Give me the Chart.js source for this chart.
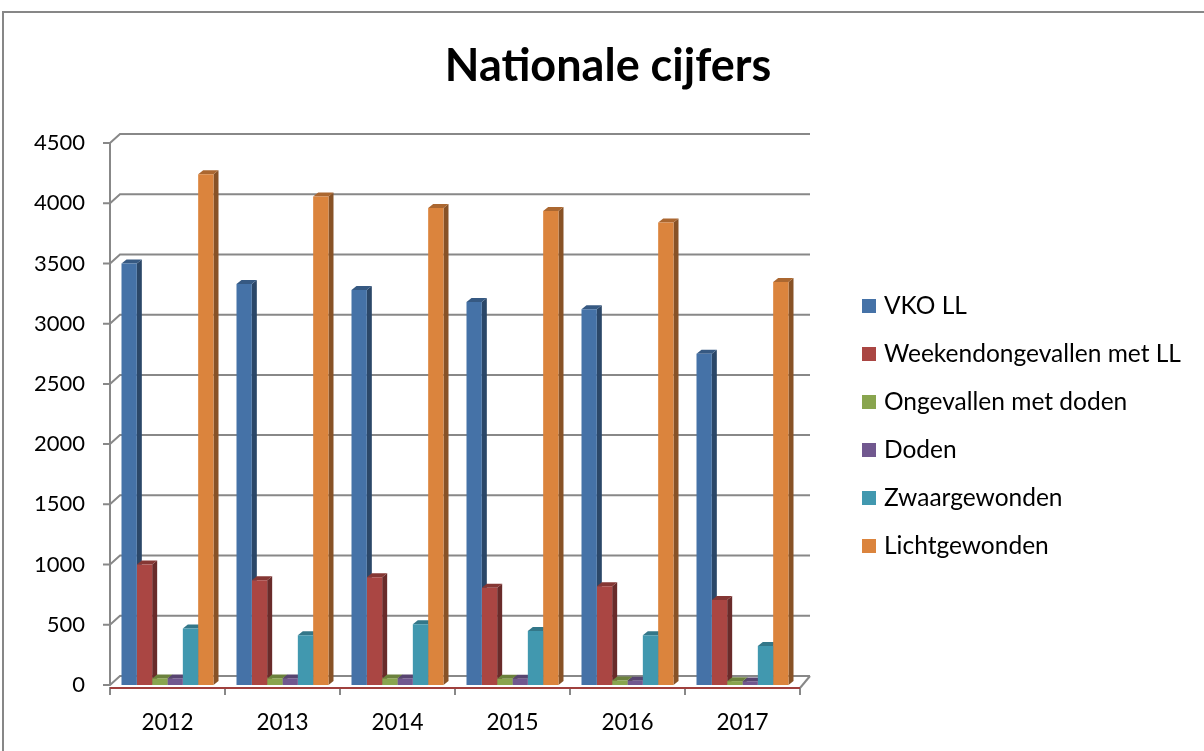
<!DOCTYPE html>
<html>
<head>
<meta charset="utf-8">
<script src="https://cdn.jsdelivr.net/npm/chart.js@4"></script>
<style>
  html, body { margin: 0; padding: 0; background: #fff; }
  #wrap { width: 1204px; height: 751px; }
</style>
</head>
<body>
<div id="wrap"><canvas id="chart" width="1204" height="751"></canvas></div>
<script>
// data
const years = ["2012", "2013", "2014", "2015", "2016", "2017"];
const vkoLL = [3500, 3330, 3280, 3180, 3120, 2750];
const weekendLL = [1000, 870, 895, 808, 820, 705];
const ongevallenDoden = [55, 55, 55, 52, 38, 32];
const doden = [55, 55, 55, 52, 35, 30];
const zwaargewonden = [470, 413, 504, 449, 413, 324];
const lichtgewonden = [4240, 4055, 3960, 3935, 3840, 3345];
const yTicks = [0, 500, 1000, 1500, 2000, 2500, 3000, 3500, 4000, 4500];

const seriesNames = ["VKO LL", "Weekendongevallen met LL", "Ongevallen met doden", "Doden", "Zwaargewonden", "Lichtgewonden"];
const colors = ["#4572A7", "#AA4643", "#89A54E", "#71588F", "#4198AF", "#DB843D"];

const FONT = "Lato, 'Open Sans', sans-serif";

function shade(hex, f) {
  const n = parseInt(hex.slice(1), 16);
  const r = Math.round(((n >> 16) & 255) * f);
  const g = Math.round(((n >> 8) & 255) * f);
  const b = Math.round((n & 255) * f);
  return "rgb(" + r + "," + g + "," + b + ")";
}

// back wall, floor and bar sides/tops (fake 3D like Excel)
const depth3d = {
  id: "depth3d",
  beforeDraw(chart) {
    const ctx = chart.ctx;
    ctx.save();
    ctx.strokeStyle = "#878787";
    ctx.lineWidth = 2;
    ctx.beginPath();
    ctx.moveTo(3, 751);
    ctx.lineTo(3, 12);
    ctx.lineTo(1204, 12);
    ctx.stroke();
    ctx.restore();
  },
  beforeDatasetsDraw(chart) {
    const ctx = chart.ctx;
    const area = chart.chartArea;
    const y = chart.scales.y;
    const wx = 10, wy = 9;
    ctx.save();
    ctx.strokeStyle = "#888";
    ctx.lineWidth = 2;
    yTicks.forEach(v => {
      const py = y.getPixelForValue(v);
      ctx.beginPath();
      ctx.moveTo(area.left - 7, py);
      ctx.lineTo(area.left, py);
      ctx.lineTo(area.left + wx, py - wy);
      ctx.lineTo(area.right + wx, py - wy);
      ctx.stroke();
    });
    // front axis line
    ctx.beginPath();
    ctx.moveTo(area.left, area.top);
    ctx.lineTo(area.left, area.bottom);
    ctx.stroke();
    // floor right edge
    ctx.beginPath();
    ctx.moveTo(area.right, area.bottom + 3);
    ctx.lineTo(area.right + wx, area.bottom - wy);
    ctx.stroke();
    // category ticks
    for (let i = 0; i <= years.length; i++) {
      const px = area.left + (area.right - area.left) * i / years.length;
      ctx.beginPath();
      ctx.moveTo(px, area.bottom + 2);
      ctx.lineTo(px, area.bottom + 10);
      ctx.stroke();
    }
    // front floor edge
    ctx.strokeStyle = "#A0403D";
    ctx.lineWidth = 2;
    ctx.beginPath();
    ctx.moveTo(area.left, area.bottom + 3);
    ctx.lineTo(area.right, area.bottom + 3);
    ctx.stroke();

    const dx = 5, dy = 4;
    chart.data.datasets.forEach((ds, di) => {
      const meta = chart.getDatasetMeta(di);
      meta.data.forEach(bar => {
        const l = bar.x - bar.width / 2;
        const r = bar.x + bar.width / 2;
        const t = bar.y, b = bar.base;
        ctx.fillStyle = shade(colors[di], 0.62);
        ctx.beginPath();
        ctx.moveTo(r, t);
        ctx.lineTo(r + dx, t - dy);
        ctx.lineTo(r + dx, b - dy);
        ctx.lineTo(r, b);
        ctx.closePath();
        ctx.fill();
        ctx.fillStyle = shade(colors[di], 0.78);
        ctx.beginPath();
        ctx.moveTo(l, t);
        ctx.lineTo(l + dx, t - dy);
        ctx.lineTo(r + dx, t - dy);
        ctx.lineTo(r, t);
        ctx.closePath();
        ctx.fill();
      });
    });
    ctx.restore();
  },
  afterDraw(chart) {
    const ctx = chart.ctx;
    ctx.save();
    // title
    ctx.fillStyle = "#000";
    ctx.font = "bold 45px " + FONT;
    ctx.textAlign = "center";
    ctx.textBaseline = "middle";
    ctx.fillText("Nationale cijfers", 608, 66);
    // legend
    ctx.font = "24.5px " + FONT;
    ctx.textAlign = "left";
    chart.data.datasets.forEach((ds, i) => {
      const cy = 306 + i * 48;
      ctx.fillStyle = ds.backgroundColor;
      ctx.fillRect(862, cy - 7, 14, 14);
      ctx.fillStyle = "#000";
      ctx.fillText(ds.label, 884, cy);
    });
    ctx.restore();
  }
};

const datasets = [vkoLL, weekendLL, ongevallenDoden, doden, zwaargewonden, lichtgewonden].map((vals, i) => ({
  label: seriesNames[i],
  data: vals,
  backgroundColor: colors[i],
  categoryPercentage: 0.8,
  barPercentage: 1.0
}));

new Chart(document.getElementById("chart"), {
  type: "bar",
  data: { labels: years, datasets: datasets },
  options: {
    responsive: false,
    animation: false,
    layout: { padding: { left: 10, top: 143, right: 404, bottom: 0 } },
    plugins: {
      legend: { display: false },
      title: { display: false },
      tooltip: { enabled: false }
    },
    scales: {
      x: {
        grid: { display: false },
        border: { display: false },
        ticks: { color: "#000", font: { family: FONT, size: 22.5 }, padding: 16 },
        afterFit(s) { s.height = 66; }
      },
      y: {
        min: 0,
        max: 4500,
        grid: { display: false, drawTicks: false },
        border: { display: false },
        ticks: {
          stepSize: 500,
          color: "#000",
          font: { family: FONT, size: 22 },
          padding: 25,
          callback: v => String(v)
        },
        afterFit(s) { s.width = 100; }
      }
    }
  },
  plugins: [depth3d]
});
</script>
</body>
</html>
